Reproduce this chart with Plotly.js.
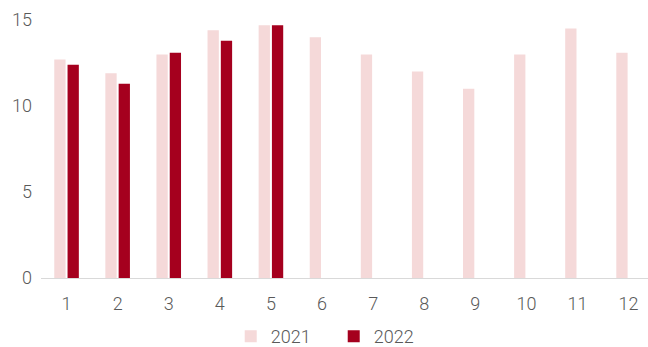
<!DOCTYPE html>
<html>
<head>
<meta charset="utf-8">
<script src="https://cdn.plot.ly/plotly-3.0.1.min.js"></script>
<style>
  html, body { margin: 0; padding: 0; background: #ffffff; }
  #chart { width: 648px; height: 347px; }
</style>
</head>
<body>
<div id="chart"></div>
<script>
// Monthly values, two years
const months = ['1', '2', '3', '4', '5', '6', '7', '8', '9', '10', '11', '12'];
const values2021 = [12.7, 11.9, 13.0, 14.4, 14.7, 14.0, 13.0, 12.0, 11.0, 13.0, 14.5, 13.1];
const values2022 = [12.4, 11.3, 13.1, 13.8, 14.7];
const months2022 = months.slice(0, values2022.length);

const labelColor = '#595959';
const fontFamily = 'Roboto, "Noto Sans", sans-serif';
const labelFont = { size: 18, color: labelColor, family: fontFamily, weight: 300 };

const traces = [
  {
    type: 'bar',
    name: '2021',
    x: months,
    y: values2021,
    marker: { color: '#F5D9D9' },
    hoverinfo: 'x+y+name'
  },
  {
    type: 'bar',
    name: '2022',
    x: months2022,
    y: values2022,
    marker: { color: '#A5001E' },
    hoverinfo: 'x+y+name'
  }
];

const layout = {
  width: 648,
  height: 347,
  margin: { l: 41, r: 0, t: 20, b: 69 },
  paper_bgcolor: '#ffffff',
  plot_bgcolor: '#ffffff',
  barmode: 'group',
  bargap: 0.48,
  bargroupgap: 0.15,
  font: labelFont,
  xaxis: {
    type: 'category',
    categoryorder: 'array',
    categoryarray: months,
    range: [-0.5, 11.38],
    showline: true,
    linecolor: '#D9D9D9',
    linewidth: 1,
    showgrid: false,
    zeroline: false,
    ticks: '',
    ticklabelstandoff: 9,
    tickfont: labelFont
  },
  yaxis: {
    range: [0, 15],
    tickvals: [0, 5, 10, 15],
    showgrid: false,
    zeroline: false,
    showline: false,
    ticks: '',
    ticklabelstandoff: 8,
    tickfont: labelFont
  },
  showlegend: true,
  legend: {
    orientation: 'h',
    xref: 'container',
    yref: 'container',
    x: 0.515,
    xanchor: 'center',
    y: 0.03,
    yanchor: 'middle',
    font: labelFont,
    bgcolor: 'rgba(0,0,0,0)',
    entrywidth: 58,
    entrywidthmode: 'pixels',
    traceorder: 'normal'
  }
};

Plotly.newPlot('chart', traces, layout, { displayModeBar: false, staticPlot: true });
</script>
</body>
</html>
